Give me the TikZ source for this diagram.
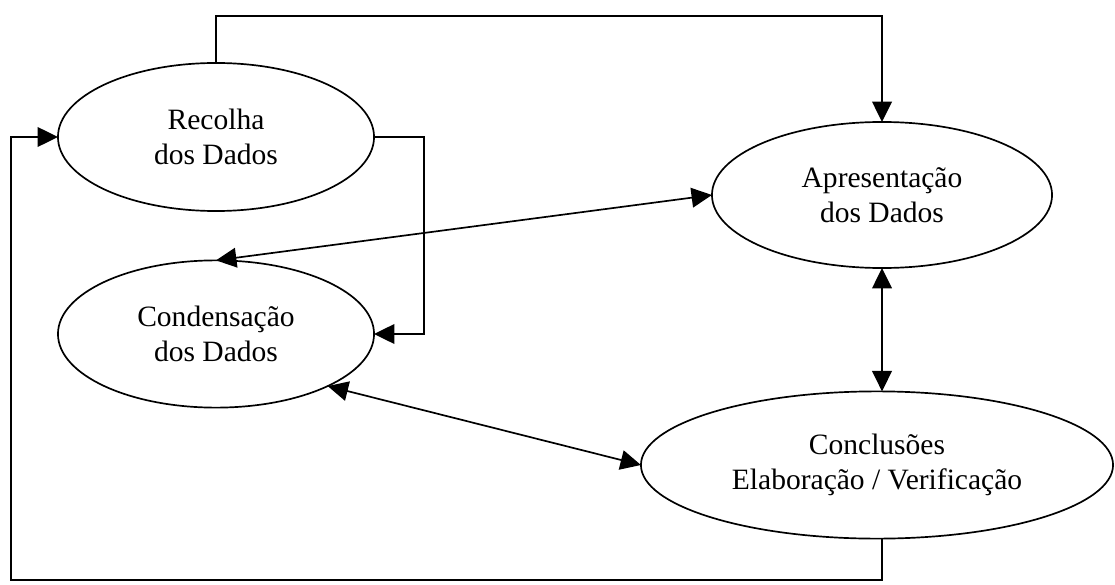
\documentclass[tikz,border=0pt]{standalone}
\usepackage{fontspec}
\setmainfont{Liberation Serif}
\usepackage{tikz}
\usetikzlibrary{shapes.geometric,arrows.meta}

\begin{document}
\begin{tikzpicture}[x=0.025cm,y=-0.025cm,line width=1.2pt,>={Triangle[length=14.5pt,width=14pt]},
	stage/.style={ellipse,draw,inner sep=0pt,outer sep=0pt,align=center,font=\fontsize{21}{25}\selectfont}]
	\useasboundingbox (0,0) rectangle (1115,584);

	\node[stage,minimum width=7.9cm,minimum height=3.7cm] (recolha) at (216,137) {Recolha\\dos Dados};
	\node[stage,minimum width=8.5cm,minimum height=3.65cm] (apres) at (882,195) {Apresentação\\dos Dados};
	\node[stage,minimum width=7.9cm,minimum height=3.68cm] (cond) at (216,334) {Condensação\\dos Dados};
	\node[stage,minimum width=11.8cm,minimum height=3.68cm] (concl) at (877,465) {Conclusões\\Elaboração / Verificação};

	\coordinate (topCorner) at (216,16);
	\coordinate (rightTurn) at (424,137);
	\coordinate (loopCorner) at (11,580);

\draw[->](recolha.north) -- (topCorner) -| (apres.north);
\draw[->](recolha.east) -- (rightTurn) |- (cond.east);
\draw[<->](cond.north) -- (apres.west);
\draw[<->](cond.-25) -- (concl.west);
\draw[<->](apres.south) -- (apres.south |- concl.north);
\draw[->](apres.south |- concl.south) |- (loopCorner) |- (recolha.west);

\end{tikzpicture}
\end{document}
